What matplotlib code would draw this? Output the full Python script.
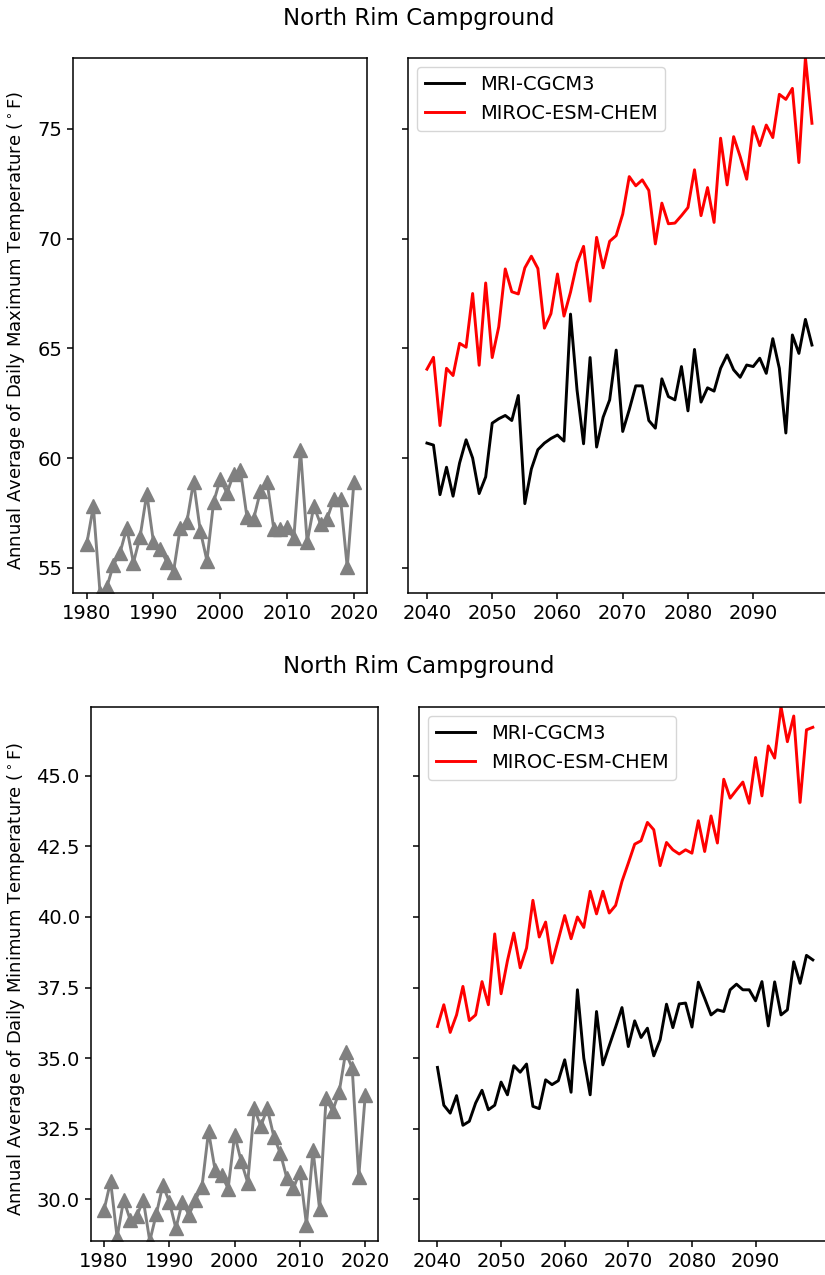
import numpy as np
import matplotlib
matplotlib.use("Agg")
import matplotlib.pyplot as plt

# ---- data ----
obs_years = list(range(1980, 2021))
proj_years = list(range(2040, 2100))

obs_tmax = [56.07, 57.79, 53.86, 54.10, 55.12, 55.69, 56.81, 55.23, 56.42, 58.37,
            56.16, 55.87, 55.27, 54.82, 56.81, 57.09, 58.92, 56.69, 55.32, 57.99,
            59.04, 58.40, 59.28, 59.47, 57.29, 57.24, 58.48, 58.92, 56.78, 56.78,
            56.84, 56.34, 60.37, 56.17, 57.80, 57.00, 57.24, 58.14, 58.12, 55.02,
            58.92]

mri_tmax = [60.68, 60.59, 58.33, 59.58, 58.26, 59.77, 60.83, 60.00, 58.38, 59.14,
            61.59, 61.79, 61.94, 61.71, 62.85, 57.92, 59.50, 60.38, 60.68, 60.89,
            61.05, 60.77, 66.56, 63.10, 60.65, 64.58, 60.50, 61.86, 62.65, 64.92,
            61.21, 62.20, 63.29, 63.29, 61.71, 61.36, 63.61, 62.80, 62.65, 64.17,
            62.15, 64.95, 62.55, 63.20, 63.05, 64.09, 64.70, 64.02, 63.68, 64.24,
            64.17, 64.55, 63.86, 65.44, 64.09, 61.14, 65.61, 64.77, 66.32, 65.15]

miroc_tmax = [64.05, 64.59, 61.48, 64.09, 63.76, 65.23, 65.05, 67.50, 64.23, 67.98,
              64.58, 65.98, 68.62, 67.58, 67.48, 68.67, 69.20, 68.64, 65.92, 66.58,
              68.39, 66.47, 67.56, 68.89, 69.65, 67.15, 70.06, 68.67, 69.88, 70.14,
              71.12, 72.83, 72.41, 72.68, 72.20, 69.76, 71.62, 70.68, 70.71, 71.05,
              71.42, 73.14, 71.05, 72.33, 70.74, 74.58, 72.45, 74.65, 73.74, 72.71,
              75.11, 74.24, 75.18, 74.61, 76.58, 76.35, 76.85, 73.47, 78.25, 75.26]

obs_tmin = [29.62, 30.63, 28.65, 29.98, 29.27, 29.39, 29.98, 28.52, 29.47, 30.50,
            29.91, 28.97, 29.91, 29.44, 29.98, 30.45, 32.40, 31.04, 30.86, 30.38,
            32.28, 31.34, 30.59, 33.22, 32.58, 33.22, 32.22, 31.63, 30.74, 30.39,
            30.98, 29.10, 31.75, 29.66, 33.57, 33.13, 33.79, 35.20, 34.65, 30.79,
            33.68]

mri_tmin = [34.67, 33.33, 33.05, 33.67, 32.62, 32.76, 33.41, 33.86, 33.17, 33.33,
            34.15, 33.70, 34.73, 34.50, 34.79, 33.29, 33.21, 34.23, 34.06, 34.20,
            34.94, 33.79, 37.42, 35.00, 33.70, 36.65, 34.76, 35.44, 36.10, 36.79,
            35.41, 36.32, 35.73, 36.06, 35.08, 35.65, 36.91, 36.08, 36.92, 36.95,
            36.10, 37.69, 37.12, 36.53, 36.71, 36.65, 37.42, 37.62, 37.42, 37.42,
            37.03, 37.71, 36.14, 37.70, 36.53, 36.71, 38.41, 37.65, 38.64, 38.48]

miroc_tmin = [36.12, 36.89, 35.91, 36.53, 37.54, 36.33, 36.53, 37.71, 36.89, 39.40,
              37.28, 38.45, 39.43, 38.20, 38.90, 40.59, 39.29, 39.82, 38.37, 39.20,
              40.05, 39.23, 40.00, 39.63, 40.91, 40.11, 40.91, 40.14, 40.41, 41.26,
              41.91, 42.58, 42.70, 43.35, 43.09, 41.82, 42.64, 42.38, 42.23, 42.38,
              42.26, 43.41, 42.32, 43.58, 42.62, 44.88, 44.21, 44.50, 44.78, 44.03,
              45.65, 44.29, 46.06, 45.63, 47.45, 46.21, 47.12, 44.06, 46.63, 46.72]

station = "North Rim Campground"
models = ["MRI-CGCM3", "MIROC-ESM-CHEM"]
model_colors = ["black", "red"]

# ---- style ----
plt.rcParams.update({
    "font.family": ["DejaVu Sans"],
    "font.size": 14,
    "axes.linewidth": 1.1,
    "xtick.major.size": 4.5,
    "ytick.major.size": 4.5,
    "xtick.major.width": 1.1,
    "ytick.major.width": 1.1,
    "xtick.labelsize": 14,
    "ytick.labelsize": 14,
    "legend.fontsize": 14,
})

W, H = 825, 1275
fig = plt.figure(figsize=(W / 100, H / 100), dpi=100)


def px_axes(x0, x1, y_top, y_bot, **kw):
    return fig.add_axes([x0 / W, 1 - y_bot / H, (x1 - x0) / W, (y_bot - y_top) / H], **kw)


def panel_pair(obs, mri, miroc, ylabel, boxes, title_y, yticks, fmt):
    (l0, l1, r0, r1, yt, yb) = boxes
    ax_obs = px_axes(l0, l1, yt, yb)
    ax_prj = px_axes(r0, r1, yt, yb, sharey=ax_obs)

    ax_obs.plot(obs_years, obs, color="gray", lw=2.1, marker="^", markersize=9.5)
    for vals, name, col in zip([mri, miroc], models, model_colors):
        ax_prj.plot(proj_years, vals, color=col, lw=2.1, label=name)

    lo = min(min(obs), min(mri), min(miroc))
    hi = max(max(obs), max(mri), max(miroc))
    ax_obs.set_ylim(lo, hi)
    ax_obs.set_yticks(yticks)
    ax_obs.set_yticklabels([fmt.format(v) for v in yticks])
    ax_obs.set_xticks([1980, 1990, 2000, 2010, 2020])
    ax_prj.set_xticks([2040, 2050, 2060, 2070, 2080, 2090])
    ax_prj.tick_params(axis="y", labelleft=False)
    ax_obs.set_ylabel(ylabel, fontsize=13)
    ax_obs.yaxis.set_label_coords((27 - l0) / (l1 - l0), 0.49)
    ax_prj.legend(loc="upper left")
    fig.text(419 / W, 1 - title_y / H, station, ha="center", va="center", fontsize=16.5)
    return ax_obs, ax_prj


panel_pair(obs_tmax, mri_tmax, miroc_tmax,
           r"Annual Average of Daily Maximum Temperature ($^\circ$F)",
           (73.3, 367.3, 407.7, 831.2, 57.7, 592.7), 18,
           [55, 60, 65, 70, 75], "{:.0f}")

panel_pair(obs_tmin, mri_tmin, miroc_tmin,
           r"Annual Average of Daily Minimum Temperature ($^\circ$F)",
           (91.0, 378.3, 418.7, 831.6, 706.7, 1241.0), 666,
           [30.0, 32.5, 35.0, 37.5, 40.0, 42.5, 45.0], "{:.1f}")

fig.savefig("out.png", dpi=100)
